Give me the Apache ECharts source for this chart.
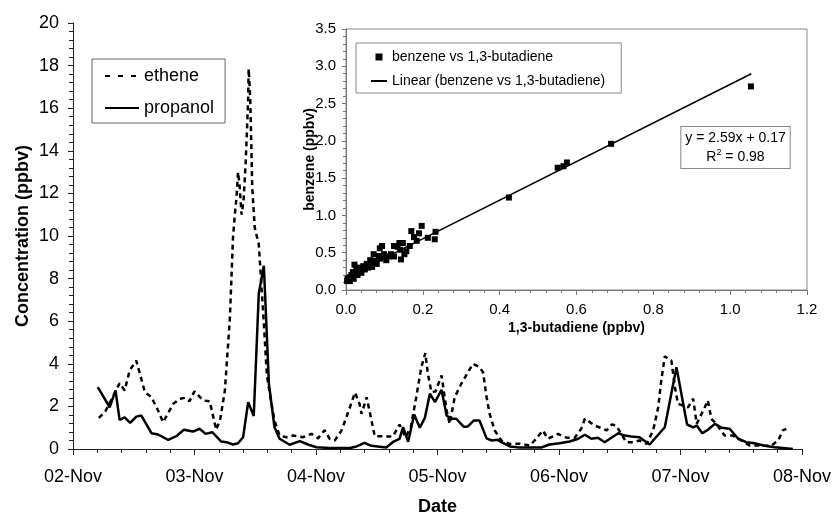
<!DOCTYPE html>
<html>
<head>
<meta charset="utf-8">
<script src="https://cdn.jsdelivr.net/npm/echarts@6/dist/echarts.min.js"></script>
<style>
html, body { margin: 0; padding: 0; background: #fff; }
#chart { width: 833px; height: 512px; }
</style>
</head>
<body>
<div id="chart"></div>
<script>
// tick labels of the time axis (one per day, hours from 02-Nov 00:00)
const dayLabels = ["02-Nov", "03-Nov", "04-Nov", "05-Nov", "06-Nov", "07-Nov", "08-Nov"];

// ethene (ppbv) vs hours
const ethHours = [5.1, 6.3, 8.2, 9.2, 10.2, 11.2, 12.5, 14.2, 15.5, 16.8, 17.8, 19.8, 21.1, 22.1, 23.0, 24.0,
  25.7, 27.0, 28.3, 29.1, 30.0, 30.6, 31.0, 31.6, 32.0, 32.3, 32.6, 32.9, 33.3, 33.7, 34.1, 34.6, 34.7,
  35.0, 35.2, 35.4, 35.9, 36.7, 37.7, 38.3, 39.1, 39.8, 40.8, 42.2, 43.5, 45.4, 47.1, 48.4, 49.7, 50.7,
  51.7, 53.0, 54.0, 54.7, 55.7, 56.6, 57.0, 58.0, 58.9, 59.6, 61.9, 63.2, 64.5, 65.7, 66.7, 67.8, 68.8,
  69.6, 70.1, 70.8, 71.6, 72.8, 73.8, 74.4, 75.4, 76.7, 78.0, 79.0, 80.3, 81.0, 81.7, 82.3, 83.3, 84.6,
  86.3, 88.2, 90.2, 91.5, 92.8, 93.8, 95.8, 97.5, 99.1, 100.4, 101.1, 103.1, 105.4, 106.4, 107.3, 109.3,
  110.6, 111.9, 113.3, 114.6, 115.6, 116.2, 116.9, 118.2, 118.9, 119.5, 121.5, 122.5, 123.2, 124.8,
  125.4, 126.1, 127.1, 128.7, 130.4, 132.0, 133.7, 135.6, 137.9, 139.3, 140.2, 140.9];
const ethene = [1.46, 1.73, 2.59, 3.09, 2.75, 3.69, 4.15, 2.67, 2.43, 1.81, 1.26, 2.12, 2.36, 2.40, 2.24, 2.71,
  2.28, 2.24, 0.9, 1.42, 2.75, 4.78, 6.2, 9.9, 11.1, 11.8, 13.0, 12.4, 11.0, 11.7, 13.4, 16.4, 17.85,
  16.5, 14.5, 12.3, 10.4, 9.6, 5.9, 3.45, 2.28, 1.34, 0.63, 0.55, 0.63, 0.55, 0.71, 0.5, 0.88, 0.48,
  0.4, 0.85, 1.49, 1.96, 2.65, 2.12, 1.65, 2.43, 1.42, 0.6, 0.59, 0.59, 1.15, 0.55, 1.0, 2.43, 3.84,
  4.5, 3.53, 2.67, 2.7, 3.45, 1.81, 1.18, 2.43, 3.06, 3.6, 4.0, 3.84, 3.6, 2.43, 1.65, 0.87, 0.4,
  0.24, 0.25, 0.16, 0.48, 0.87, 0.48, 0.71, 0.53, 0.53, 0.95, 1.42, 1.1, 0.87, 1.15, 1.1, 0.32,
  0.32, 0.4, 0.24, 0.87, 1.96, 3.22, 4.35, 4.15, 2.9, 2.12, 1.96, 2.36, 1.18, 1.96,
  2.28, 1.42, 1.18, 0.63, 0.63, 0.4, 0.16, 0.16, 0.15, 0.4, 0.87, 0.95];

// propanol (ppbv) vs hours
const propHours = [4.9, 7.25, 8.4, 9.2, 10.2, 11.3, 12.5, 13.5, 15.5, 16.8, 18.8, 20.4, 21.9, 23.7, 25.0,
  26.2, 27.5, 29.3, 30.3, 31.6, 32.6, 33.6, 34.6, 35.7, 36.7, 37.7, 38.7, 39.8, 40.8, 42.8, 44.8, 46.4,
  48.1, 50.7, 54.7, 56.0, 57.6, 58.9, 61.9, 63.2, 64.5, 65.2, 66.2, 67.4, 68.5, 69.5, 70.5, 71.5, 72.8,
  73.8, 74.7, 75.7, 77.2, 78.0, 79.2, 80.3, 81.7, 82.7, 83.9, 84.6, 86.3, 88.2, 92.5, 94.1, 96.1, 98.1,
  99.8, 101.1, 102.4, 103.7, 105.0, 107.7, 109.0, 110.3, 111.9, 113.9, 116.9, 119.2, 121.3, 122.5,
  123.2, 124.3, 125.4, 126.8, 128.1, 129.7, 131.4, 133.0, 134.6, 136.6, 138.6, 140.2, 142.2];
const propanol = [2.9, 1.96, 2.75, 1.37, 1.49, 1.23, 1.52, 1.57, 0.74, 0.68, 0.43, 0.6, 0.9, 0.82, 0.95,
  0.71, 0.79, 0.35, 0.32, 0.21, 0.27, 0.55, 2.2, 1.55, 7.3, 8.6, 3.06, 1.02, 0.48, 0.2, 0.37, 0.21,
  0.08, 0.05, 0.05, 0.12, 0.29, 0.15, 0.07, 0.33, 0.48, 1.03, 0.34, 1.62, 1.0, 1.46, 2.6, 2.2, 2.78,
  1.57, 1.42, 1.42, 1.04, 1.06, 1.34, 1.34, 0.5, 0.4, 0.43, 0.32, 0.12, 0.07, 0.07, 0.21, 0.27, 0.35,
  0.48, 0.67, 0.48, 0.53, 0.32, 0.74, 0.63, 0.59, 0.55, 0.21, 1.02, 3.84, 1.15, 1.02,
  1.1, 0.74, 0.9, 1.18, 1.0, 0.95, 0.48, 0.32, 0.27, 0.15, 0.08, 0.05, 0.0];

// inset scatter: 1,3-butadiene (x) vs benzene (y), ppbv
const butadiene = [1.054, 0.690, 0.575, 0.566, 0.551, 0.424, 0.233, 0.231, 0.213, 0.197, 0.190, 0.184,
  0.170, 0.177, 0.166, 0.157, 0.143, 0.139, 0.141, 0.125, 0.125, 0.112, 0.094, 0.088, 0.099, 0.090,
  0.072, 0.076, 0.068, 0.063, 0.054, 0.045, 0.036, 0.027, 0.022, 0.018, 0.014, 0.009, 0.004, 0.006,
  0.148, 0.134, 0.117, 0.085, 0.074, 0.063, 0.049, 0.036, 0.023, 0.013, 0.152, 0.105, 0.080, 0.058,
  0.040, 0.030, 0.010, 0.020, 0.003];
const benzene = [2.73, 1.96, 1.71, 1.66, 1.64, 1.24, 0.78, 0.68, 0.70, 0.86, 0.76, 0.66,
  0.79, 0.71, 0.59, 0.52, 0.41, 0.63, 0.54, 0.59, 0.45, 0.45, 0.59, 0.56, 0.48, 0.42,
  0.48, 0.37, 0.31, 0.40, 0.35, 0.32, 0.30, 0.27, 0.34, 0.24, 0.20, 0.17, 0.15, 0.13,
  0.63, 0.58, 0.48, 0.455, 0.39, 0.32, 0.275, 0.25, 0.21, 0.16, 0.48, 0.40, 0.35, 0.30,
  0.23, 0.20, 0.12, 0.15, 0.12];

// linear trend end points
const fitX = [0, 1.055];
const fitY = [0.17, 2.90];

const zip = (a, b) => a.map((v, i) => [v, b[i]]);
const font = "'Liberation Sans', Arial, sans-serif";
const noMark = { opacity: 0 };

const chart = echarts.init(document.getElementById("chart"));
chart.setOption({
  backgroundColor: "#fff",
  textStyle: { fontFamily: font },
  animation: false,
  grid: [
    { left: 73, right: 31, top: 23, bottom: 63, outerBoundsMode: "none" },
    {
      left: 346, right: 26, top: 29, bottom: 222, outerBoundsMode: "none",
      show: true, backgroundColor: "#fff", borderColor: "#888", borderWidth: 1
    }
  ],
  legend: [
    {
      data: [
        { name: "ethene", lineStyle: { type: [5, 8] }, itemStyle: noMark },
        { name: "propanol", itemStyle: noMark }
      ],
      orient: "vertical",
      left: 92,
      top: 59,
      padding: [8, 11, 6, 12],
      itemWidth: 34,
      itemHeight: 14,
      itemGap: 14,
      borderColor: "#666",
      borderWidth: 1,
      backgroundColor: "#fff",
      textStyle: { fontSize: 18, color: "#000", fontFamily: font }
    },
    {
      data: [
        { name: "benzene vs 1,3-butadiene", icon: "path://M0 0H1V1H0Z" },
        { name: "Linear (benzene vs 1,3-butadiene)", itemStyle: noMark }
      ],
      orient: "vertical",
      left: 356,
      top: 43,
      padding: [7, 16, 5, 14],
      itemWidth: 16,
      itemHeight: 7,
      itemGap: 10,
      symbolKeepAspect: true,
      borderColor: "#888",
      borderWidth: 1,
      backgroundColor: "#fff",
      textStyle: { fontSize: 14, color: "#000", fontFamily: font }
    }
  ],
  xAxis: [
    {
      gridIndex: 0,
      type: "value",
      min: 0,
      max: 144,
      interval: 24,
      name: "Date",
      nameLocation: "middle",
      nameGap: 49,
      nameMoveOverlap: false,
      nameTextStyle: { fontSize: 18, fontWeight: "bold", color: "#000" },
      axisLine: { lineStyle: { color: "#222", width: 1 } },
      axisTick: { length: 6, lineStyle: { color: "#222" } },
      minorTick: { show: true, splitNumber: 5, length: 4, lineStyle: { color: "#222" } },
      splitLine: { show: false },
      axisLabel: {
        margin: 19,
        fontSize: 18,
        color: "#000",
        formatter: v => dayLabels[Math.round(v / 24)]
      }
    },
    {
      gridIndex: 1,
      type: "value",
      min: 0,
      max: 1.2,
      interval: 0.2,
      name: "1,3-butadiene (ppbv)",
      nameLocation: "middle",
      nameGap: 31,
      nameMoveOverlap: false,
      nameTextStyle: { fontSize: 14, fontWeight: "bold", color: "#000" },
      axisLine: { lineStyle: { color: "#777", width: 1 } },
      axisTick: { length: 5, lineStyle: { color: "#777" } },
      minorTick: { show: true, splitNumber: 5, length: 3, lineStyle: { color: "#777" } },
      splitLine: { show: false },
      axisLabel: { margin: 12, fontSize: 15, color: "#000", formatter: v => v.toFixed(1) }
    }
  ],
  yAxis: [
    {
      gridIndex: 0,
      type: "value",
      min: 0,
      max: 20,
      interval: 2,
      name: "Concentration (ppbv)",
      nameLocation: "middle",
      nameGap: 41,
      nameMoveOverlap: false,
      nameTextStyle: { fontSize: 18, fontWeight: "bold", color: "#000" },
      axisLine: { show: true, lineStyle: { color: "#222", width: 1 } },
      axisTick: { show: true, length: 5, lineStyle: { color: "#222" } },
      minorTick: { show: true, splitNumber: 5, length: 4, lineStyle: { color: "#222" } },
      splitLine: { show: false },
      axisLabel: { margin: 14, fontSize: 18, color: "#000" }
    },
    {
      gridIndex: 1,
      type: "value",
      min: 0,
      max: 3.5,
      interval: 0.5,
      name: "benzene (ppbv)",
      nameLocation: "middle",
      nameGap: 29,
      nameMoveOverlap: false,
      nameTextStyle: { fontSize: 14, fontWeight: "bold", color: "#000" },
      axisLine: { show: true, lineStyle: { color: "#777", width: 1 } },
      axisTick: { show: true, length: 4, lineStyle: { color: "#777" } },
      minorTick: { show: true, splitNumber: 5, length: 3, lineStyle: { color: "#777" } },
      splitLine: { show: false },
      axisLabel: { margin: 10, fontSize: 15, color: "#000", formatter: v => v.toFixed(1) }
    }
  ],
  graphic: [
    {
      type: "text",
      x: 735.5,
      y: 127,
      z: 100,
      style: {
        text: "{a|y = 2.59x + 0.17}\n{a|R}{s|2}{a| = 0.98}",
        align: "center",
        verticalAlign: "top",
        fill: "#000",
        backgroundColor: "#fff",
        borderColor: "#888",
        borderWidth: 1,
        padding: [2, 4, 1, 4],
        rich: {
          a: { fontSize: 14, lineHeight: 19, fontFamily: font, fill: "#000" },
          s: { fontSize: 9, lineHeight: 19, verticalAlign: "top", fontFamily: font, fill: "#000", padding: [0, 0, 6, 0] }
        }
      }
    }
  ],
  series: [
    {
      name: "ethene",
      type: "line",
      xAxisIndex: 0,
      yAxisIndex: 0,
      symbol: "none",
      data: zip(ethHours, ethene),
      lineStyle: { color: "#000", width: 2.5, type: [5, 4] },
      itemStyle: { color: "#000" }
    },
    {
      name: "propanol",
      type: "line",
      xAxisIndex: 0,
      yAxisIndex: 0,
      symbol: "none",
      data: zip(propHours, propanol),
      lineStyle: { color: "#000", width: 2.5 },
      itemStyle: { color: "#000" }
    },
    {
      name: "benzene vs 1,3-butadiene",
      type: "scatter",
      xAxisIndex: 1,
      yAxisIndex: 1,
      symbol: "rect",
      symbolSize: 6,
      data: zip(butadiene, benzene),
      itemStyle: { color: "#000", opacity: 1 }
    },
    {
      name: "Linear (benzene vs 1,3-butadiene)",
      type: "line",
      xAxisIndex: 1,
      yAxisIndex: 1,
      symbol: "none",
      data: zip(fitX, fitY),
      lineStyle: { color: "#000", width: 1.5 },
      itemStyle: { color: "#000" }
    }
  ]
});
</script>
</body>
</html>
